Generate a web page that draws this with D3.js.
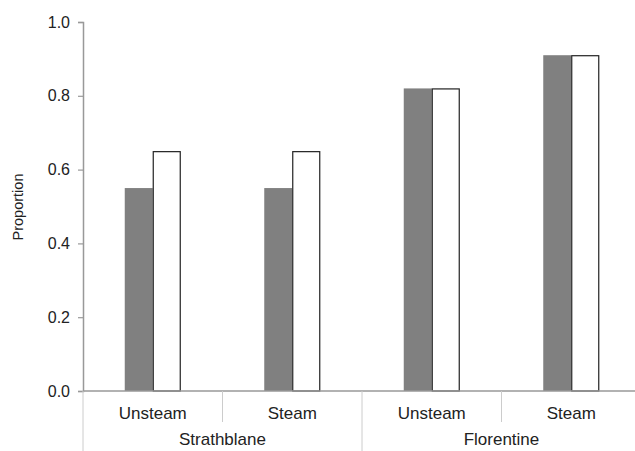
<!DOCTYPE html>
<html>
<head>
<meta charset="utf-8">
<script src="https://cdn.jsdelivr.net/npm/d3@7"></script>
<style>
  body { margin: 0; background: #fff; }
  text { font-family: "Liberation Sans", Arial, sans-serif; fill: #222; }
</style>
</head>
<body>
<svg id="chart" width="635" height="451"></svg>
<script>
const sites = ["Strathblane", "Florentine"];
const treatments = ["Unsteam", "Steam"];
const grayValues = [0.55, 0.55, 0.82, 0.91];
const whiteValues = [0.65, 0.65, 0.82, 0.91];
const yTicks = [0, 0.2, 0.4, 0.6, 0.8, 1.0];

function createBarChart() {
  const svg = d3.select("#chart");

  // one entry per x category (site x treatment)
  const cats = [];
  sites.forEach((s) => treatments.forEach((t) => cats.push({ site: s, treat: t, key: s + "|" + t })));
  cats.forEach((c, i) => { c.gray = grayValues[i]; c.white = whiteValues[i]; });

  const left = 83, right = 641, top = 22, bottom = 391;

  const xScale = d3.scaleBand()
    .domain(cats.map((c) => c.key))
    .range([left, right]);

  const siteScale = d3.scaleBand()
    .domain(sites)
    .range([left, right]);

  const yScale = d3.scaleLinear()
    .domain([0, 1])
    .range([bottom, top]);

  const barW = 28;

  // gray bars
  svg.selectAll(".bar-gray")
    .data(cats)
    .enter()
    .append("rect")
    .attr("x", (d) => xScale(d.key) + xScale.bandwidth() / 2 - barW)
    .attr("y", (d) => yScale(d.gray))
    .attr("width", barW)
    .attr("height", (d) => yScale(0) - yScale(d.gray))
    .attr("fill", "#808080");

  // white bars
  svg.selectAll(".bar-white")
    .data(cats)
    .enter()
    .append("rect")
    .attr("x", (d) => xScale(d.key) + xScale.bandwidth() / 2 + 0.5)
    .attr("y", (d) => yScale(d.white) + 0.5)
    .attr("width", barW - 1)
    .attr("height", (d) => yScale(0) - yScale(d.white) - 0.5)
    .attr("fill", "#fff")
    .attr("stroke", "#222")
    .attr("stroke-width", 1.2);

  // y axis
  const yAxis = svg.append("g")
    .attr("transform", `translate(${left}, 0)`)
    .call(d3.axisLeft(yScale).tickValues(yTicks).tickFormat(d3.format(".1f")).tickSize(5).tickPadding(8));
  yAxis.select(".domain").attr("stroke", "#999").attr("stroke-width", 1.5);
  yAxis.selectAll(".tick line").attr("stroke", "#999").attr("stroke-width", 1.2);
  yAxis.selectAll(".tick text").style("font-size", "16px").attr("fill", "#222");

  // x axis line
  svg.append("line")
    .attr("x1", left)
    .attr("x2", right)
    .attr("y1", bottom)
    .attr("y2", bottom)
    .attr("stroke", "#999")
    .attr("stroke-width", 1.5);

  // short separators between treatments
  svg.selectAll(".sep-short")
    .data(cats.filter((c) => c.treat !== treatments[0]))
    .enter()
    .append("line")
    .attr("x1", (d) => xScale(d.key))
    .attr("x2", (d) => xScale(d.key))
    .attr("y1", bottom)
    .attr("y2", 422)
    .attr("stroke", "#ccc")
    .attr("stroke-width", 1);

  // long separators between sites
  svg.selectAll(".sep-long")
    .data(sites)
    .enter()
    .append("line")
    .attr("x1", (d) => siteScale(d))
    .attr("x2", (d) => siteScale(d))
    .attr("y1", bottom)
    .attr("y2", 451)
    .attr("stroke", "#ccc")
    .attr("stroke-width", 1);

  // treatment labels
  svg.selectAll(".treat-label")
    .data(cats)
    .enter()
    .append("text")
    .attr("x", (d) => xScale(d.key) + xScale.bandwidth() / 2)
    .attr("y", 419)
    .attr("text-anchor", "middle")
    .style("font-size", "17px")
    .text((d) => d.treat);

  // site labels
  svg.selectAll(".site-label")
    .data(sites)
    .enter()
    .append("text")
    .attr("x", (d) => siteScale(d) + siteScale.bandwidth() / 2)
    .attr("y", 445)
    .attr("text-anchor", "middle")
    .style("font-size", "17px")
    .text((d) => d);

  // y label
  svg.append("text")
    .attr("transform", "translate(23, 207) rotate(-90)")
    .attr("text-anchor", "middle")
    .style("font-size", "14.5px")
    .text("Proportion");
}

createBarChart();
</script>
</body>
</html>
